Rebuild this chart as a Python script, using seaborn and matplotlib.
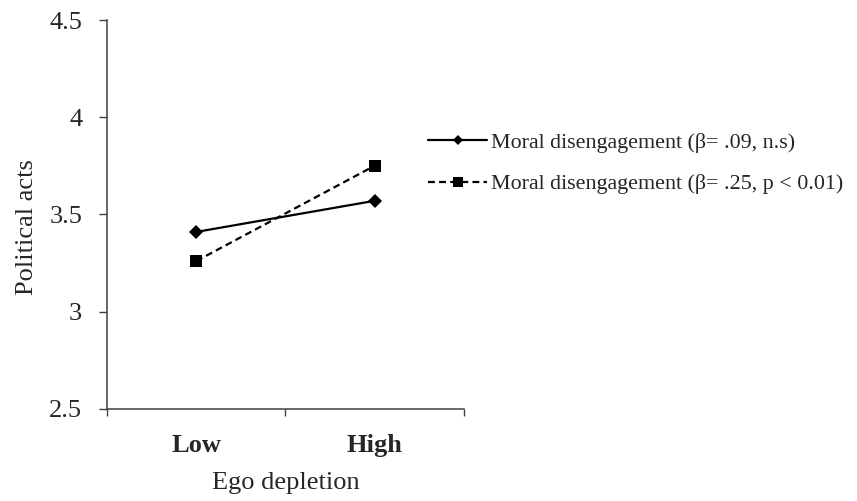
import matplotlib.pyplot as plt
import matplotlib.ticker as mticker
import pandas as pd
import seaborn as sns

depletion = ["Low", "High"]
series_names = [
    "Moral disengagement (β= .09, n.s)",
    "Moral disengagement (β= .25, p < 0.01)",
]
acts_low_md = [3.41, 3.57]
acts_high_md = [3.26, 3.75]

df = pd.DataFrame({
    "Ego depletion": depletion * 2,
    "Political acts": acts_low_md + acts_high_md,
    "group": [series_names[0]] * 2 + [series_names[1]] * 2,
})

sns.set_style("white")
plt.rcParams["font.family"] = ["Liberation Serif", "DejaVu Serif"]

fig = plt.figure(figsize=(8.57, 5.01), dpi=100)
ax = fig.add_axes([0.125, 0.184, 0.416, 0.776])

sns.lineplot(
    data=df,
    x="Ego depletion",
    y="Political acts",
    hue="group",
    style="group",
    palette=["black", "black"],
    dashes={series_names[0]: "", series_names[1]: (3.1, 1.9)},
    markers={series_names[0]: "D", series_names[1]: "s"},
    markersize=9,
    markeredgewidth=0,
    linewidth=1.6,
    ax=ax,
    sort=False,
)
for line in ax.lines:
    if line.get_marker() == "D":
        line.set_markersize(7.5)

ax.set_xlim(-0.5, 1.5)
ax.set_ylim(2.5, 4.5)
ax.set_yticks([2.5, 3, 3.5, 4, 4.5])
ax.set_yticklabels(["2.5", "3", "3.5", "4", "4.5"])
ax.set_xticks([0, 1])
ax.set_xticklabels(depletion, fontweight="bold")
ax.xaxis.set_minor_locator(mticker.FixedLocator([-0.5, 0.5, 1.5]))
ax.tick_params(axis="x", which="major", length=0, labelsize=19, pad=18)
ax.tick_params(axis="x", which="minor", length=5, width=1, color="#404040",
               direction="out", bottom=True)
ax.tick_params(axis="y", length=6, width=1, color="#404040", direction="out",
               left=True, labelsize=19, pad=12)

ax.set_xlabel("Ego depletion", fontsize=19, labelpad=11)
ax.set_ylabel("Political acts", fontsize=19, labelpad=8)
ax.yaxis.label.set_y(0.467)

for s in ["top", "right"]:
    ax.spines[s].set_visible(False)
for s in ["left", "bottom"]:
    ax.spines[s].set_color("#404040")
    ax.spines[s].set_linewidth(1.1)

handles, labels = ax.get_legend_handles_labels()
for h in handles:
    h.set_markeredgewidth(0)
    if h.get_marker() == "D":
        h.set_markersize(5.5)
    else:
        h.set_markersize(7)
ax.legend(
    handles, labels,
    loc="upper left",
    bbox_to_anchor=(0.4995, 0.735),
    bbox_transform=fig.transFigure,
    frameon=False,
    fontsize=15.8,
    handlelength=2.7,
    handletextpad=0.15,
    labelspacing=0.95,
    borderaxespad=0,
    borderpad=0,
)

fig.savefig("out.png", dpi=100)
